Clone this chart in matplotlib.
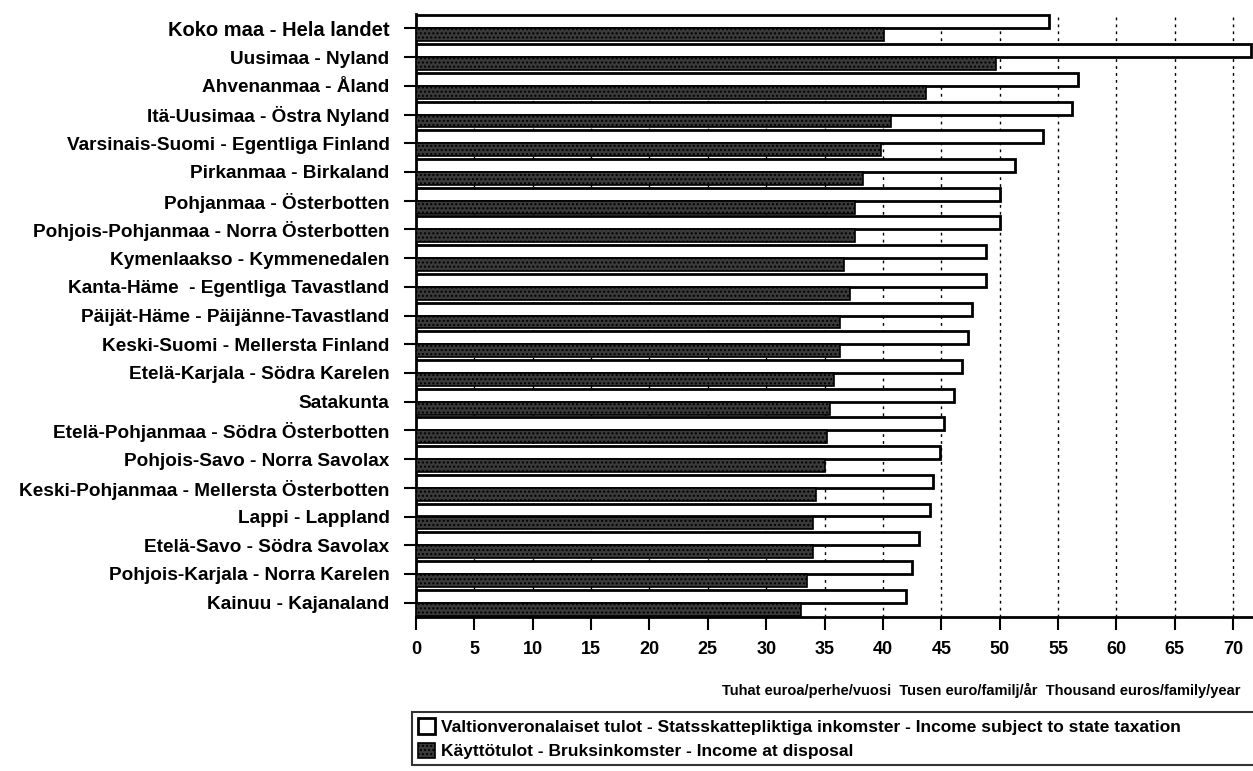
import matplotlib.pyplot as plt
import numpy as np

plt.rcParams['font.family'] = ['Liberation Sans', 'DejaVu Sans']

# Alueet ylhäältä alas
regions = [
    "Koko maa - Hela landet",
    "Uusimaa - Nyland",
    "Ahvenanmaa - Åland",
    "Itä-Uusimaa - Östra Nyland",
    "Varsinais-Suomi - Egentliga Finland",
    "Pirkanmaa - Birkaland",
    "Pohjanmaa - Österbotten",
    "Pohjois-Pohjanmaa - Norra Österbotten",
    "Kymenlaakso - Kymmenedalen",
    "Kanta-Häme  - Egentliga Tavastland",
    "Päijät-Häme - Päijänne-Tavastland",
    "Keski-Suomi - Mellersta Finland",
    "Etelä-Karjala - Södra Karelen",
    "Satakunta",
    "Etelä-Pohjanmaa - Södra Österbotten",
    "Pohjois-Savo - Norra Savolax",
    "Keski-Pohjanmaa - Mellersta Österbotten",
    "Lappi - Lappland",
    "Etelä-Savo - Södra Savolax",
    "Pohjois-Karjala - Norra Karelen",
    "Kainuu - Kajanaland",
]

# Valtionveronalaiset tulot (tuhat euroa)
taxable = [54.2, 71.5, 56.7, 56.2, 53.7, 51.3, 50.0, 50.0, 48.8, 48.8, 47.6,
           47.3, 46.8, 46.1, 45.2, 44.9, 44.3, 44.0, 43.1, 42.5, 42.0]
# Käyttötulot (tuhat euroa)
disposable = [40.1, 49.7, 43.7, 40.7, 39.8, 38.3, 37.6, 37.6, 36.7, 37.2, 36.3,
              36.3, 35.8, 35.5, 35.2, 35.0, 34.3, 34.0, 34.0, 33.5, 33.0]

xticks = list(range(0, 75, 5))

fig = plt.figure(figsize=(12.53, 7.71), dpi=100)
ax = fig.add_axes([416 / 1253, 1 - 617 / 771, (1253 - 416) / 1253, (617 - 14) / 771])

y = np.arange(len(regions))
h = 0.45
ax.barh(y - h / 2, taxable, height=h, color='white', edgecolor='black', linewidth=2.0,
        label="Valtionveronalaiset tulot - Statsskattepliktiga inkomster - Income subject to state taxation",
        zorder=3)
ax.barh(y + h / 2, disposable, height=h, color='#3a3a3a', edgecolor='black', linewidth=1.2,
        hatch='....', label="Käyttötulot - Bruksinkomster - Income at disposal", zorder=3)

ax.set_ylim(len(regions) - 0.5, -0.5)
ax.set_xlim(0, 71.7)
ax.set_yticks(y)
ax.set_yticklabels(regions, fontsize=13.7, fontweight='bold')
ax.get_yticklabels()[0].set_fontsize(14.5)
ax.set_xticks(xticks)
ax.set_xticklabels([str(t) for t in xticks], fontsize=13, fontweight='bold')
ax.tick_params(axis='y', direction='out', length=9, width=1.5, pad=10)
ax.tick_params(axis='x', direction='out', length=9, width=1.5, pad=8)

ax.grid(axis='x', linestyle=(0, (2, 3)), color='black', linewidth=1.0, zorder=0)
ax.spines['top'].set_visible(False)
ax.spines['right'].set_visible(False)
ax.spines['left'].set_linewidth(2.0)
ax.spines['bottom'].set_linewidth(2.0)

fig.text(1240 / 1253, 1 - 690 / 771,
         "Tuhat euroa/perhe/vuosi  Tusen euro/familj/år  Thousand euros/family/year",
         ha='right', va='center', fontsize=10.5, fontweight='bold')

leg = fig.legend(loc='upper left', bbox_to_anchor=(412 / 1253, 0, 1 - 412 / 1253 + 0.02, 1 - 712 / 771),
                 mode='expand', prop={'size': 12.5, 'weight': 'bold'}, frameon=True,
                 fancybox=False, edgecolor='black',
                 handlelength=1.0, handleheight=1.0, handletextpad=0.3,
                 borderpad=0.35, labelspacing=0.45, borderaxespad=0)
leg.get_frame().set_linewidth(1.5)

fig.savefig('out.png', dpi=100)
